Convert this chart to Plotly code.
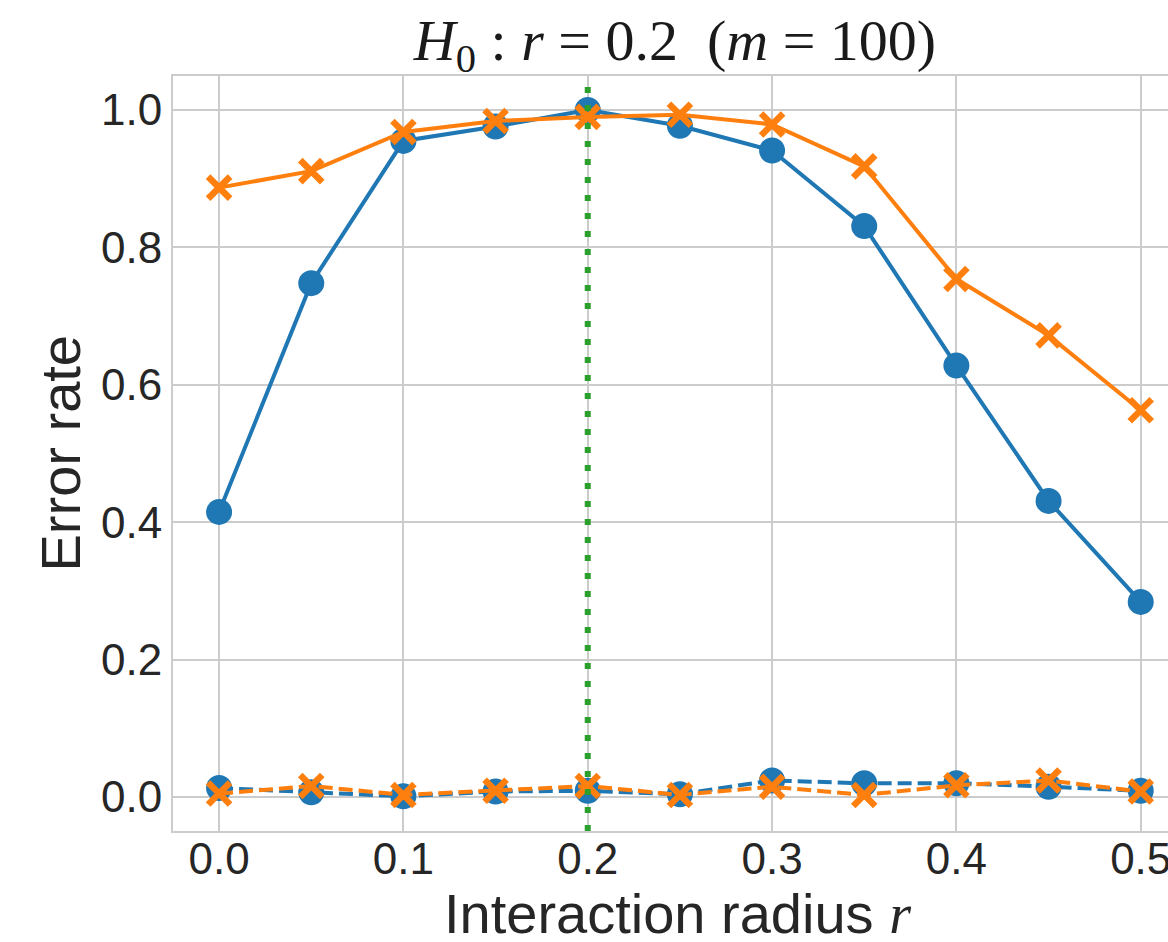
import plotly.graph_objects as go

# Interaction radii tested
radius = [0.0, 0.05, 0.1, 0.15, 0.2, 0.25, 0.3, 0.35, 0.4, 0.45, 0.5]

# Error rates (solid: wrong-model rejections, dashed: null-model rejections)
blue_solid = [0.415, 0.748, 0.955, 0.976, 1.0, 0.977, 0.941, 0.831, 0.628, 0.431, 0.284]
orange_solid = [0.887, 0.911, 0.968, 0.984, 0.990, 0.993, 0.979, 0.918, 0.754, 0.672, 0.563]
blue_dashed = [0.013, 0.007, 0.001, 0.008, 0.009, 0.004, 0.024, 0.020, 0.020, 0.015, 0.009]
orange_dashed = [0.005, 0.016, 0.003, 0.009, 0.016, 0.003, 0.015, 0.003, 0.017, 0.024, 0.008]

null_radius = 0.2
x_ticks = [0.0, 0.1, 0.2, 0.3, 0.4, 0.5]
y_ticks = [0.0, 0.2, 0.4, 0.6, 0.8, 1.0]

BLUE = "#1f77b4"
ORANGE = "#ff7f0e"
GREEN = "#2ca02c"
GRID = "#cccccc"
TEXT = "#262626"
SANS = "Liberation Sans, Arial, sans-serif"
SERIF = "Liberation Serif, DejaVu Serif, serif"
LW = 4

fig = go.Figure()

fig.add_trace(go.Scatter(
    x=radius, y=blue_solid, mode="lines+markers",
    line=dict(color=BLUE, width=LW),
    marker=dict(symbol="circle", size=26, color=BLUE),
))
fig.add_trace(go.Scatter(
    x=radius, y=blue_dashed, mode="lines+markers",
    line=dict(color=BLUE, width=LW, dash="14px,6px"),
    marker=dict(symbol="circle", size=26, color=BLUE),
))
fig.add_trace(go.Scatter(
    x=radius, y=orange_solid, mode="lines+markers",
    line=dict(color=ORANGE, width=LW),
    marker=dict(symbol="x-thin", size=22, color=ORANGE,
                line=dict(color=ORANGE, width=6.5)),
))
fig.add_trace(go.Scatter(
    x=radius, y=orange_dashed, mode="lines+markers",
    line=dict(color=ORANGE, width=LW, dash="14px,6px"),
    marker=dict(symbol="x-thin", size=22, color=ORANGE,
                line=dict(color=ORANGE, width=6.5)),
))

# Vertical marker at the null-hypothesis radius
fig.add_shape(
    type="line", xref="x", yref="paper", x0=null_radius, x1=null_radius, y0=0, y1=1,
    line=dict(color=GREEN, width=6, dash="6px,12px"), layer="above",
)

# Axis titles
fig.add_annotation(
    text=("Interaction radius&nbsp;<span style=\"font-family:'Liberation Serif'\">"
          "<i>r</i></span>"),
    xref="paper", yref="paper", x=(442 - 173) / (1168 - 173), y=0,
    xanchor="left", yanchor="middle", yshift=-82, showarrow=False,
    font=dict(family=SANS, size=56, color=TEXT),
)
fig.add_annotation(
    text="Error rate", textangle=-90,
    xref="paper", yref="paper", x=0, y=0.5,
    xanchor="center", yanchor="middle", xshift=-113, showarrow=False,
    font=dict(family=SANS, size=56, color=TEXT),
)

fig.update_layout(
    width=1168, height=942,
    margin=dict(l=173, r=0, t=76, b=111, autoexpand=False),
    paper_bgcolor="white", plot_bgcolor="white",
    showlegend=False,
    font=dict(family=SANS, color=TEXT),
    title=dict(
        text="<i>H</i><sub>0</sub> : <i>r</i> = 0.2&nbsp;&nbsp;(<i>m</i> = 100)",
        font=dict(family=SERIF, size=58, color="#1a1a1a"),
        xref="container", x=675 / 1168, xanchor="center",
        yref="container", y=1 - 40 / 942, yanchor="middle",
    ),
    xaxis=dict(
        range=[-0.025, 0.5148], automargin=False,
        tickvals=x_ticks, tickformat=".1f",
        tickfont=dict(size=44, color=TEXT), ticklabeloverflow="allow",
        showgrid=True, gridcolor=GRID, gridwidth=2,
        showline=True, linecolor=GRID, linewidth=2, mirror=True,
        zeroline=False, ticks="", ticklabelstandoff=-12,
    ),
    yaxis=dict(
        range=[-0.0495, 1.0495], automargin=False,
        tickvals=y_ticks, tickformat=".1f",
        tickfont=dict(size=44, color=TEXT),
        showgrid=True, gridcolor=GRID, gridwidth=2,
        showline=True, linecolor=GRID, linewidth=2, mirror=False,
        zeroline=False, ticks="", ticklabelstandoff=0,
    ),
)

fig.write_html("out.html")
